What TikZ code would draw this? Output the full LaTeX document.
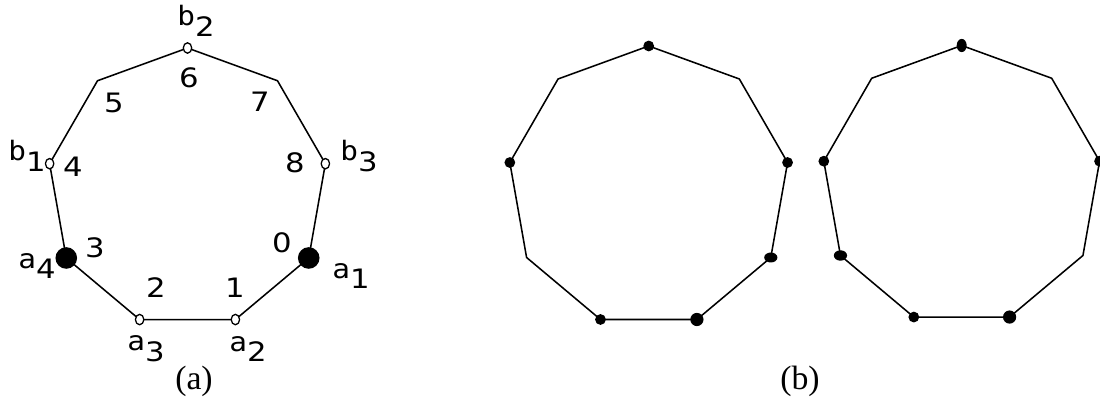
\documentclass[tikz,border=0pt]{standalone}
\usepackage{fontspec}
\setmainfont{Liberation Serif}
\newfontfamily\labfont[FakeStretch=1.1]{DejaVu Sans Mono}
\newfontfamily\digfont[FakeStretch=1.15]{DejaVu Sans}
\usetikzlibrary{positioning,shapes.geometric}

\newcommand\vname[2]{#1\raisebox{-0.4em}{\digfont #2}}

\begin{document}
\begin{tikzpicture}[
  x=0.025cm, y=0.025cm,
  edge/.style={line width=1.1pt,line join=miter},
  bigdot/.style={circle,fill,inner sep=0pt,minimum size=5.4mm},
  opendot/.style={ellipse,draw,fill=white,line width=0.9pt,inner sep=0pt,
    minimum width=2.1mm,minimum height=2.6mm},
  dot/.style={ellipse,fill,inner sep=0pt,minimum width=2.7mm,minimum height=2.7mm},
  vlab/.style={font=\labfont\fontsize{19}{21}\selectfont,inner sep=0pt},
  num/.style={font=\digfont\fontsize{19}{21}\selectfont,inner sep=0pt},
  caption/.style={font=\fontsize{24}{26}\selectfont,inner sep=0pt}
]
  \useasboundingbox (0,0) rectangle (1100,400);
  % corners of the three nonagons
  \foreach \k in {0,...,8}{
    \coordinate (p\k) at ([shift={(187.5,212)}]{-30-40*\k}:140);
    \coordinate (q\k) at ([shift={(648.7,213)}]{-30-40*\k}:141);
    \coordinate (r\k) at ([shift={(961.7,214.5)}]{-30-40*\k}:140);
  }
  \draw[edge] (p0) \foreach \k in {1,...,8}{-- (p\k)} -- cycle;
  \draw[edge] (q0) \foreach \k in {1,...,8}{-- (q\k)} -- cycle;
  \draw[edge] (r0) \foreach \k in {1,...,8}{-- (r\k)} -- cycle;

  % (a)
  \node[bigdot] (a1) at (p0) {};
  \node[bigdot] (a4) at (p3) {};
  \foreach \k/\n in {1/a2,2/a3,4/b1,6/b2,8/b3}
    \node[opendot] (\n) at (p\k) {};
  \foreach \k/\x/\y in {0/282/157,1/235/112,2/156/112,3/95/152,4/73/233,
                        5/114/297,6/189/322,7/260/298,8/295/237}
    \node[num] (n\k) at (\x,\y) {\k};
  \node[vlab] (la1) at (351,124) {\vname{a}{1}};
  \node[vlab] (la2) at (248,51) {\vname{a}{2}};
  \node[vlab] (la3) at (146,51) {\vname{a}{3}};
  \node[vlab] (la4) at (37,134) {\vname{a}{4}};
  \node[vlab] (lb1) at (27,244) {\vname{b}{1}};
  \node[vlab] (lb2) at (196,379) {\vname{b}{2}};
  \node[vlab] (lb3) at (359,244) {\vname{b}{3}};
  \node[caption] (capa) at (194,19) {(a)};

  % (b)
  \foreach \k in {2,4,6,8}
    \node[dot] (u\k) at (q\k) {};
  \node[dot,minimum width=3.3mm,minimum height=2.5mm] (u0) at (q0) {};
  \node[dot,minimum size=3.3mm] (u1) at (q1) {};
  \foreach \k in {2,4,8}
    \node[dot] (v\k) at (r\k) {};
  \node[dot,minimum width=2.5mm,minimum height=3.3mm] (v6) at (r6) {};
  \node[dot,minimum width=3.3mm,minimum height=2.6mm] (v3) at (r3) {};
  \node[dot,minimum size=3.3mm] (v1) at (r1) {};
  \node[caption] (capb) at (800,19) {(b)};
\end{tikzpicture}
\end{document}
